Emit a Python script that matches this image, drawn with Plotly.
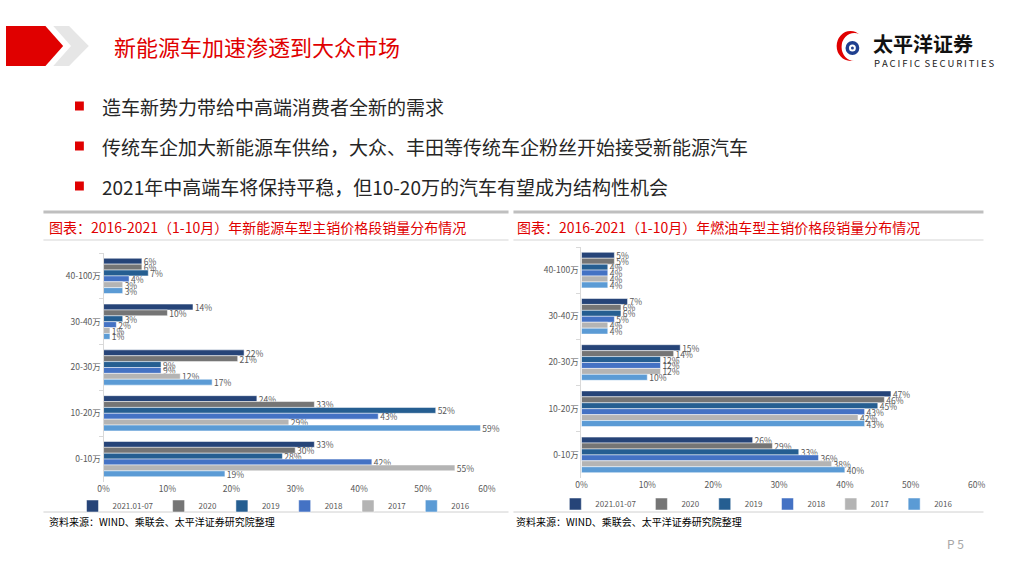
import plotly.graph_objects as go

W, H = 1024, 576

# ---------------- data ----------------
categories = ["40-100万", "30-40万", "20-30万", "10-20万", "0-10万"]
series_names = ["2021.01-07", "2020", "2019", "2018", "2017", "2016"]
series_colors = ["#264478", "#757575", "#255e91", "#4472c4", "#b4b4b4", "#5b9bd5"]

# New-energy vehicles (%)
nev_2021 = [6, 14, 22, 24, 33]
nev_2020 = [6, 10, 21, 33, 30]
nev_2019 = [7, 3, 9, 52, 28]
nev_2018 = [4, 2, 9, 43, 42]
nev_2017 = [3, 1, 12, 29, 55]
nev_2016 = [3, 1, 17, 59, 19]

# Fuel vehicles (%)
fuel_2021 = [5, 7, 15, 47, 26]
fuel_2020 = [5, 6, 14, 46, 29]
fuel_2019 = [4, 6, 12, 45, 33]
fuel_2018 = [4, 5, 12, 43, 36]
fuel_2017 = [4, 4, 12, 42, 38]
fuel_2016 = [4, 4, 10, 43, 40]

x_ticks = [0, 10, 20, 30, 40, 50, 60]

title_text = "新能源车加速渗透到大众市场"
bullets = [
    "造车新势力带给中高端消费者全新的需求",
    "传统车企加大新能源车供给，大众、丰田等传统车企粉丝开始接受新能源汽车",
    "2021年中高端车将保持平稳，但10-20万的汽车有望成为结构性机会",
]
left_title = "图表：2016-2021（1-10月）年新能源车型主销价格段销量分布情况"
right_title = "图表：2016-2021（1-10月）年燃油车型主销价格段销量分布情况"
source_text = "资料来源：WIND、乘联会、太平洋证券研究院整理"

nev_series = [nev_2021, nev_2020, nev_2019, nev_2018, nev_2017, nev_2016]
fuel_series = [fuel_2021, fuel_2020, fuel_2019, fuel_2018, fuel_2017, fuel_2016]

FONT = "Noto Sans CJK SC, Microsoft YaHei, sans-serif"
GRAY_TXT = "#595959"


def px(x):
    return x / W


def py(y):
    return 1 - y / H


fig = go.Figure()

for name, color, vals in zip(series_names, series_colors, nev_series):
    fig.add_trace(go.Bar(
        y=categories, x=vals, orientation="h", name=name,
        marker=dict(color=color, line=dict(color="white", width=0.5)),
        text=[f" {v}%" for v in vals], textposition="outside",
        textfont=dict(size=8.5, color=GRAY_TXT, family=FONT),
        constraintext="none", cliponaxis=False,
        xaxis="x", yaxis="y", legend="legend", hoverinfo="skip",
    ))

for name, color, vals in zip(series_names, series_colors, fuel_series):
    fig.add_trace(go.Bar(
        y=categories, x=vals, orientation="h", name=name,
        marker=dict(color=color, line=dict(color="white", width=0.5)),
        text=[f" {v}%" for v in vals], textposition="outside",
        textfont=dict(size=8.5, color=GRAY_TXT, family=FONT),
        constraintext="none", cliponaxis=False,
        xaxis="x2", yaxis="y2", legend="legend2", hoverinfo="skip",
    ))

xaxis_common = dict(
    range=[0, 60], tickvals=x_ticks, ticktext=[f"{t}%" for t in x_ticks],
    showgrid=False, zeroline=False, showline=False, ticks="",
    tickfont=dict(size=8.5, color=GRAY_TXT, family=FONT), fixedrange=True,
)
yaxis_common = dict(
    type="category", categoryorder="array", categoryarray=categories,
    autorange="reversed", showgrid=False, zeroline=False,
    showline=True, linecolor="#d9d9d9", linewidth=1,
    ticks="outside", tickson="boundaries", ticklen=4, tickcolor="#d9d9d9",
    tickfont=dict(size=8.5, color=GRAY_TXT, family=FONT), fixedrange=True,
)

legend_common = dict(
    orientation="h", yanchor="middle", xanchor="center",
    font=dict(size=8, color=GRAY_TXT, family=FONT),
    bgcolor="rgba(0,0,0,0)", itemwidth=30, itemclick=False, itemdoubleclick=False,
)

fig.update_layout(
    width=W, height=H, autosize=False,
    margin=dict(l=0, r=0, t=0, b=0),
    paper_bgcolor="white", plot_bgcolor="white",
    font=dict(family=FONT),
    barmode="group", bargap=0.23, bargroupgap=0,
    showlegend=True,
    xaxis=dict(domain=[px(99), px(488)], anchor="y", **xaxis_common),
    yaxis=dict(domain=[py(482), py(253)], anchor="x", **yaxis_common),
    xaxis2=dict(domain=[px(584), px(985)], anchor="y2", **xaxis_common),
    yaxis2=dict(domain=[py(478), py(247)], anchor="x2", **yaxis_common),
    legend=dict(x=px(272), y=py(506), **legend_common),
    legend2=dict(x=px(762), y=py(504), **legend_common),
)

shapes = []


def poly(points, color):
    d = "M" + " L".join(f"{px(x)},{py(y)}" for x, y in points) + " Z"
    return dict(type="path", path=d, xref="paper", yref="paper",
                fillcolor=color, line=dict(width=0), layer="above")


# header chevrons
shapes.append(poly([(48, 26), (64, 26), (84, 46), (64, 66), (48, 66), (66, 46)], "#e6e6e6"))
shapes.append(poly([(0, 26), (40, 26), (58, 46), (40, 66), (0, 66)], "#e00000"))

# bullets
for yb in [106, 146, 186]:
    shapes.append(dict(type="rect", xref="paper", yref="paper",
                       x0=px(70), x1=px(79), y0=py(yb + 4.5), y1=py(yb - 4.5),
                       fillcolor="#e00000", line=dict(width=0)))

# chart header bands
for x0, x1 in [(38, 510), (515, 992)]:
    shapes.append(dict(type="line", xref="paper", yref="paper",
                       x0=px(x0), x1=px(x1), y0=py(212), y1=py(212),
                       line=dict(color="#bfbfbf", width=3)))
    shapes.append(dict(type="line", xref="paper", yref="paper",
                       x0=px(x0), x1=px(x1), y0=py(240), y1=py(240),
                       line=dict(color="#e3e3e3", width=1.5)))
    shapes.append(dict(type="line", xref="paper", yref="paper",
                       x0=px(x0), x1=px(x1), y0=py(512), y1=py(512),
                       line=dict(color="#d0d0d0", width=1)))

# logo: red crescent + navy ring
cx, cy = 857, 46
shapes.append(dict(type="circle", xref="paper", yref="paper",
                   x0=px(cx - 14), x1=px(cx + 14), y0=py(cy + 15), y1=py(cy - 15),
                   fillcolor="#e00000", line=dict(width=0)))
shapes.append(dict(type="circle", xref="paper", yref="paper",
                   x0=px(cx - 9), x1=px(cx + 17), y0=py(cy + 15), y1=py(cy - 13),
                   fillcolor="white", line=dict(width=0)))
shapes.append(dict(type="circle", xref="paper", yref="paper",
                   x0=px(cx - 5), x1=px(cx + 9), y0=py(cy + 9), y1=py(cy - 5),
                   fillcolor="#1f3f8f", line=dict(width=0)))
shapes.append(dict(type="circle", xref="paper", yref="paper",
                   x0=px(cx - 1.5), x1=px(cx + 5.5), y0=py(cy + 5.5), y1=py(cy - 1.5),
                   fillcolor="white", line=dict(width=0)))
shapes.append(dict(type="circle", xref="paper", yref="paper",
                   x0=px(cx + 0.5), x1=px(cx + 3.5), y0=py(cy + 3.5), y1=py(cy + 0.5),
                   fillcolor="#1f3f8f", line=dict(width=0)))

fig.update_layout(shapes=shapes)

ann = []


def text(x, y, s, size, color, xanchor="left", weight="normal", **kw):
    ann.append(dict(x=px(x), y=py(y), xref="paper", yref="paper", text=s,
                    showarrow=False, xanchor=xanchor, yanchor="middle",
                    font=dict(size=size, color=color, family=FONT, weight=weight), **kw))


text(108, 46, title_text, 22, "#e00000")
for yb, s in zip([106, 146, 186], bullets):
    text(95, yb, s, 19, "#262626")
text(42, 227, left_title, 14, "#e00000")
text(517, 227, right_title, 14, "#e00000")
text(42, 521, source_text, 10, "#000000")
text(516, 521, source_text, 10, "#000000")
text(878, 44, "太平洋证券", 20, "#111111", weight="bold")
text(879, 63, "&#8201;".join("PACIFIC") + "&nbsp;&nbsp;" + "&#8201;".join("SECURITIES"), 9.5, "#222222")
text(953, 543, "P 5", 12, "#a6a6a6")

fig.update_layout(annotations=ann)

fig.write_html(
    "out.html",
    config={"displayModeBar": False},
    post_script="document.body.style.margin='0';document.body.style.overflow='hidden';",
)
